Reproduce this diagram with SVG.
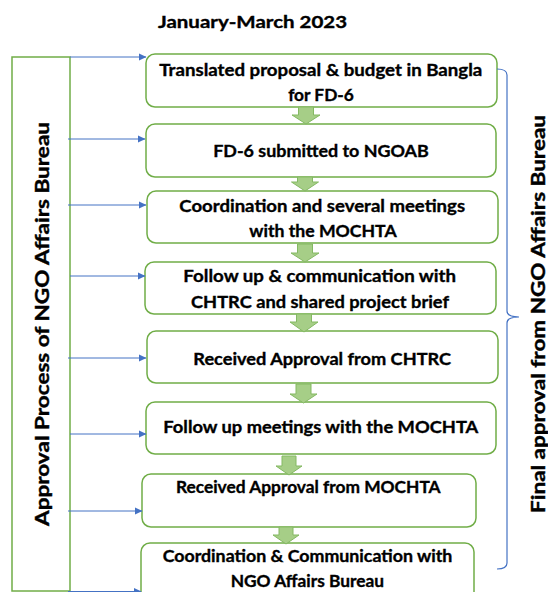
<svg xmlns="http://www.w3.org/2000/svg" width="548" height="592" viewBox="0 0 548 592">
  <style>
    .box { fill: #ffffff; stroke: #70AD47; stroke-width: 1.5; }
    .frame { fill: none; stroke: #70AD47; stroke-width: 1.5; }
    .lbl { font-family: Lato, "Open Sans", "Liberation Sans", sans-serif; font-weight: bold; font-size: 17px; fill: #000000; stroke: #000000; stroke-width: 0.35; text-anchor: middle; }
    .side { font-family: Lato, "Open Sans", "Liberation Sans", sans-serif; font-weight: bold; font-size: 19px; fill: #000000; stroke: #000000; stroke-width: 0.4; text-anchor: middle; }
    .feed { stroke: #4472C4; stroke-width: 1; fill: none; marker-end: url(#tip); }
    .down { fill: #A6CE87; stroke: #84B963; stroke-width: 1; }
    .brace { fill: none; stroke: #4472C4; stroke-width: 1.2; }
  </style>
  <defs>
    <marker id="tip" markerWidth="8" markerHeight="8" refX="7" refY="4" orient="auto" markerUnits="userSpaceOnUse">
      <path d="M0,0.5 L7.5,4 L0,7.5 Z" fill="#4472C4"/>
    </marker>
  </defs>

  <!-- heading -->
  <text class="lbl" x="252.5" y="28" textLength="189" lengthAdjust="spacingAndGlyphs">January-March 2023</text>

  <!-- left panel: approval process -->
  <g id="process-panel">
    <rect class="frame" x="12" y="57" width="58" height="534"/>
    <text class="side" transform="translate(49,324) rotate(-90)" textLength="404" lengthAdjust="spacingAndGlyphs">Approval Process of NGO Affairs Bureau</text>
  </g>

  <!-- step boxes -->
  <g id="step1">
    <rect class="box" x="146" y="54" width="351" height="53" rx="9"/>
    <text class="lbl" x="320.8" y="75.7" textLength="323" lengthAdjust="spacingAndGlyphs">Translated proposal &amp; budget in Bangla</text>
    <text class="lbl" x="321" y="100.7" textLength="65.7" lengthAdjust="spacingAndGlyphs">for FD-6</text>
  </g>
  <g id="step2">
    <rect class="box" x="146" y="124" width="350" height="53" rx="9"/>
    <text class="lbl" x="321" y="157.3" textLength="215.7" lengthAdjust="spacingAndGlyphs">FD-6 submitted to NGOAB</text>
  </g>
  <g id="step3">
    <rect class="box" x="147" y="191" width="351" height="52" rx="9"/>
    <text class="lbl" x="322.2" y="211.7" textLength="285.7" lengthAdjust="spacingAndGlyphs">Coordination and several meetings</text>
    <text class="lbl" x="323" y="237.3" textLength="147.3" lengthAdjust="spacingAndGlyphs">with the MOCHTA</text>
  </g>
  <g id="step4">
    <rect class="box" x="145" y="262" width="351" height="52" rx="9"/>
    <text class="lbl" x="319.7" y="281.7" textLength="272.7" lengthAdjust="spacingAndGlyphs">Follow up &amp; communication with</text>
    <text class="lbl" x="320" y="308.3" textLength="258" lengthAdjust="spacingAndGlyphs">CHTRC and shared project brief</text>
  </g>
  <g id="step5">
    <rect class="box" x="147" y="331" width="351" height="52" rx="9"/>
    <text class="lbl" x="322.2" y="365" textLength="257.7" lengthAdjust="spacingAndGlyphs">Received Approval from CHTRC</text>
  </g>
  <g id="step6">
    <rect class="box" x="146" y="402" width="350" height="52" rx="9"/>
    <text class="lbl" x="320.8" y="433.3" textLength="315" lengthAdjust="spacingAndGlyphs">Follow up meetings with the MOCHTA</text>
  </g>
  <g id="step7">
    <rect class="box" x="142" y="474" width="334" height="53" rx="9"/>
    <text class="lbl" x="308.3" y="492.7" textLength="264.7" lengthAdjust="spacingAndGlyphs">Received Approval from MOCHTA</text>
  </g>
  <g id="step8">
    <rect class="box" x="141" y="543" width="333" height="70" rx="9"/>
    <text class="lbl" x="307.5" y="561.7" textLength="289.7" lengthAdjust="spacingAndGlyphs">Coordination &amp; Communication with</text>
    <text class="lbl" x="307.3" y="586.7" textLength="153.3" lengthAdjust="spacingAndGlyphs">NGO Affairs Bureau</text>
  </g>

  <!-- connectors -->
  <g id="connectors">
    <!-- block arrows between steps -->
    <path class="down" d="M298.5,107 H313.5 V115 H320 L306,124 L292,115 H298.5 Z"/>
    <path class="down" d="M297.5,177 H312.5 V182 H318.5 L305,191 L291.5,182 H297.5 Z"/>
    <path class="down" d="M297.5,244 H312.5 V253 H319 L305,262 L291,253 H297.5 Z"/>
    <path class="down" d="M296.5,314 H311.5 V322 H318 L304,332 L290,322 H296.5 Z"/>
    <path class="down" d="M296,384 H311 V394 H317 L303.5,403 L290,394 H296 Z"/>
    <path class="down" d="M282,456 H296 V466 H302 L289,475 L276,466 H282 Z"/>
    <path class="down" d="M279,527 H293 V535 H299 L286,544 L273,535 H279 Z"/>

    <!-- feed lines from the process panel -->
    <line class="feed" x1="70" y1="57" x2="146" y2="57"/>
    <line class="feed" x1="68" y1="139" x2="145" y2="139"/>
    <line class="feed" x1="68" y1="205" x2="146" y2="205"/>
    <line class="feed" x1="70" y1="276" x2="145" y2="276"/>
    <line class="feed" x1="68" y1="358" x2="146" y2="358"/>
    <line class="feed" x1="70" y1="434" x2="146" y2="434"/>
    <line class="feed" x1="68" y1="511" x2="142" y2="511"/>
    <line class="feed" x1="68" y1="591.5" x2="141" y2="591.5"/>

    <!-- right brace -->
    <path class="brace" d="M497,69 Q507,69 507,75 L507,311 Q507,317 519,317 Q507,317 507,323 L507,563 Q507,569 497,569"/>
  </g>

  <!-- final approval label -->
  <g id="final-approval">
    <text class="side" transform="translate(545,314) rotate(-90)" textLength="398" lengthAdjust="spacingAndGlyphs">Final approval from NGO Affairs Bureau</text>
  </g>
</svg>
